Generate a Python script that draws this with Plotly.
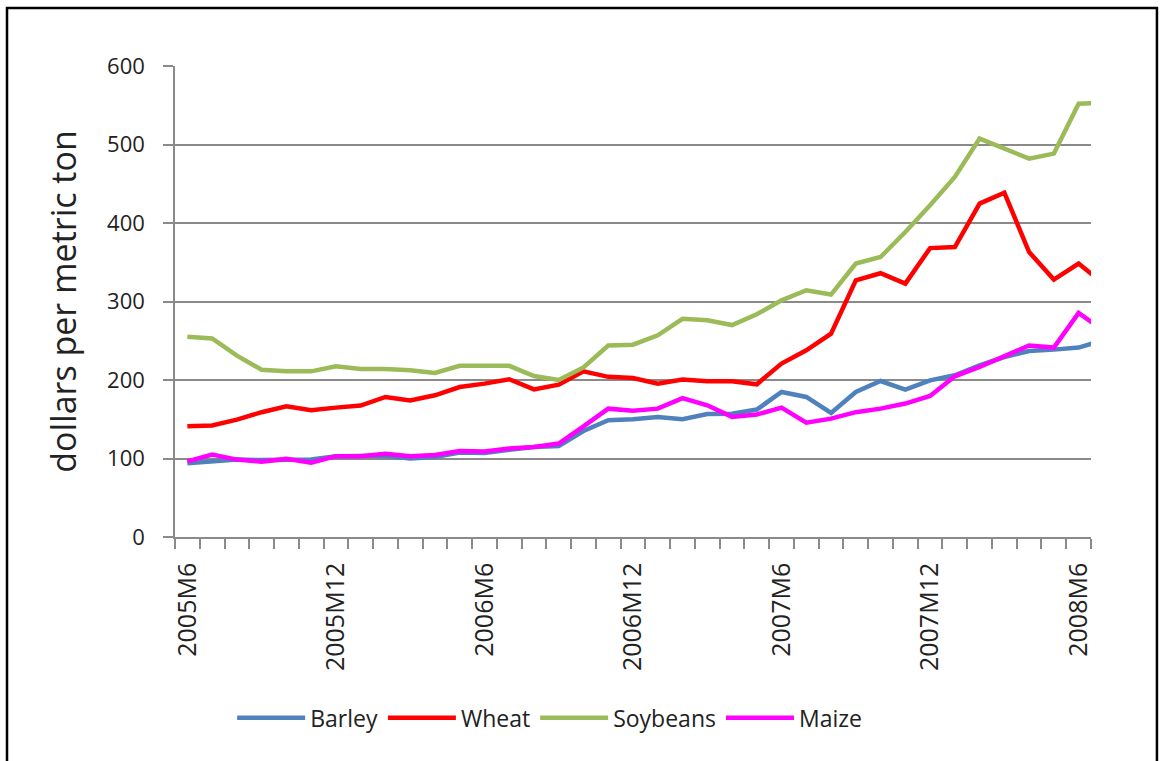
import plotly.graph_objects as go

# Monthly series, 2005M6 through 2008M7 (the last month runs just past the axis edge)
months = [f"{y}M{m}" for y in range(2005, 2009) for m in range(1, 13)
          if (y, m) >= (2005, 6) and (y, m) <= (2008, 7)]

barley = [94, 96.4, 98.6, 98, 98.6, 98.6, 103, 103, 103.6, 100,
          102, 107.5, 107, 111, 114.6, 116, 135, 148.7, 150, 152.9,
          150, 156.7, 157, 162.3, 184.7, 178.4, 158, 184.7, 198.7, 187.7,
          199.6, 206, 218.7, 229.3, 237, 238.7, 241.3, 251]
wheat = [141, 142, 149.5, 159, 166.5, 161.4, 164.8, 167.4, 178.4, 174,
         180.5, 191, 195.4, 201, 188, 194, 211, 204, 202.5, 195.4,
         200.5, 198.3, 198.3, 194.5, 221, 237.8, 259, 327, 336, 322.8,
         368, 369.4, 424.7, 438.7, 363, 328, 348.3, 323]
soybeans = [255, 253, 231, 213, 211, 211, 217.5, 214, 214, 212.3,
            209, 218, 218, 218, 205, 200, 216, 244, 245, 257,
            278, 276, 270, 283.7, 301.5, 314.3, 308.8, 348.3, 356.7, 388.5,
            422.5, 458.6, 507.5, 494.8, 482, 488.4, 552, 553]
maize = [96.4, 105, 98.6, 96, 99.5, 94.7, 103, 103, 106, 103,
         104.5, 109.6, 109, 112.6, 114.6, 119, 141, 163.5, 161, 163.5,
         177, 167.8, 153, 156, 164.8, 145.7, 150.8, 159, 163.5, 170,
         179.6, 204.7, 216.6, 230, 244, 241.3, 285.4, 263]

series = [
    ("Barley", barley, "#4F81BD"),
    ("Wheat", wheat, "#FF0000"),
    ("Soybeans", soybeans, "#9BBB59"),
    ("Maize", maize, "#FF00FF"),
]

label_step = 6
shown_months = 37  # 2005M6 .. 2008M6 on the axis
idx = list(range(len(months)))

fig = go.Figure()
for name, vals, color in series:
    fig.add_trace(go.Scatter(
        x=idx, y=vals, name=name, mode="lines",
        line=dict(color=color, width=4.5),
    ))

font_family = "Open Sans, DejaVu Sans, sans-serif"
grid_col = "#8A8A8A"
text_col = "#222222"

fig.update_layout(
    width=1162, height=761,
    margin=dict(l=175, r=71, t=66, b=224),
    paper_bgcolor="white", plot_bgcolor="white",
    font=dict(family=font_family, color=text_col),
    showlegend=True,
    legend=dict(
        orientation="h", x=0.409, y=-0.384, xanchor="center", yanchor="middle",
        font=dict(size=23, color=text_col), traceorder="normal",
        itemwidth=68,
    ),
    xaxis=dict(
        range=[-0.5, shown_months - 0.5],
        tickmode="array",
        tickvals=idx[:shown_months:label_step],
        ticktext=months[:shown_months:label_step],
        tickangle=-90,
        ticks="",
        ticklabelstandoff=14,
        tickfont=dict(size=25, color=text_col),
        showgrid=False, zeroline=False,
        showline=True, linecolor=grid_col, linewidth=1.5,
        minor=dict(
            tickmode="array",
            tickvals=[i - 0.5 for i in range(shown_months + 1)],
            ticks="outside", ticklen=10, tickcolor=grid_col, tickwidth=1.5,
            showgrid=False,
        ),
    ),
    yaxis=dict(
        range=[0, 600], dtick=100,
        ticks="outside", ticklen=10, tickcolor=grid_col, tickwidth=1.5,
        ticklabelstandoff=14,
        tickfont=dict(size=22, color=text_col),
        showgrid=True, gridcolor=grid_col, gridwidth=1.5,
        zeroline=False,
        showline=True, linecolor=grid_col, linewidth=1.5,
        title=dict(text="dollars per metric ton", standoff=20,
                   font=dict(size=34, color=text_col)),
    ),
    shapes=[dict(
        type="rect", xref="paper", yref="paper",
        x0=-0.1834, x1=1.072, y0=-0.5, y1=1.1231,
        line=dict(color="black", width=2.5), layer="below",
    )],
)

fig.write_html("out.html")
